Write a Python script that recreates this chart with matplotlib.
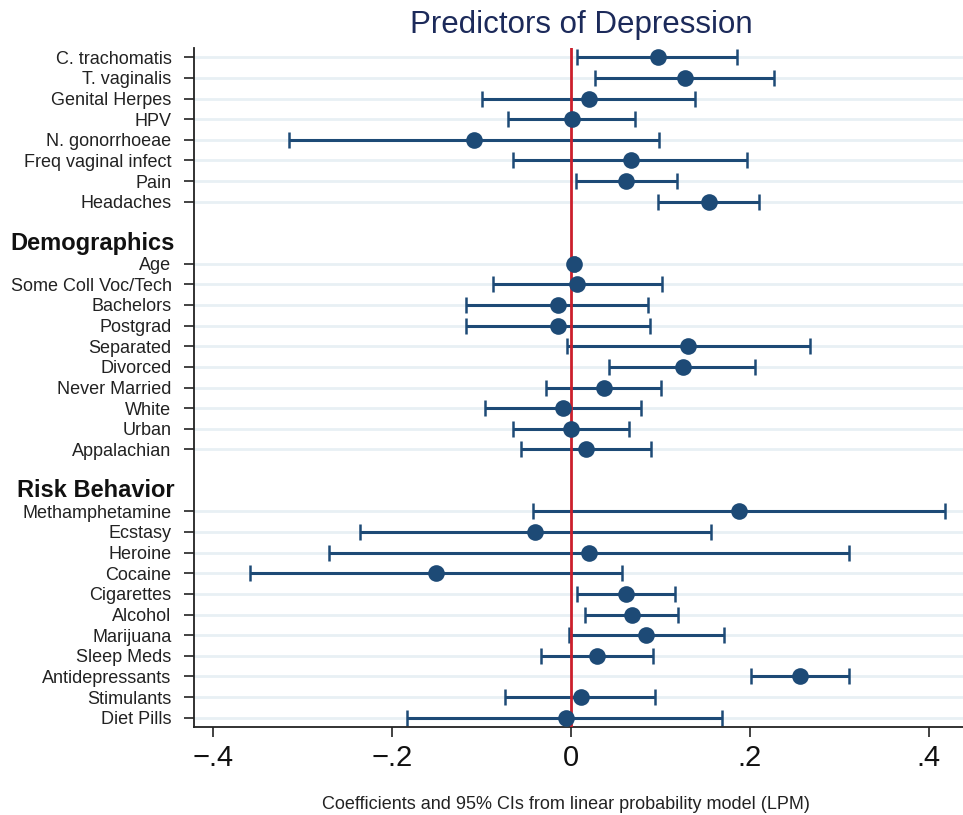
import matplotlib
matplotlib.use("Agg")
import matplotlib.pyplot as plt
from matplotlib.transforms import blended_transform_factory
import numpy as np

plt.rcParams['font.family'] = ['Liberation Sans', 'DejaVu Sans']

# ---- data ----
sti_labels = ["C. trachomatis", "T. vaginalis", "Genital Herpes", "HPV",
              "N. gonorrhoeae", "Freq vaginal infect", "Pain", "Headaches"]
sti_coef = [0.097, 0.127, 0.020, 0.001, -0.109, 0.067, 0.062, 0.154]
sti_lo   = [0.007, 0.027, -0.099, -0.071, -0.315, -0.065, 0.006, 0.097]
sti_hi   = [0.186, 0.227, 0.139, 0.072, 0.098, 0.197, 0.119, 0.210]

demo_title = "Demographics"
demo_labels = ["Age", "Some Coll Voc/Tech", "Bachelors", "Postgrad", "Separated",
               "Divorced", "Never Married", "White", "Urban", "Appalachian"]
demo_coef = [0.003, 0.007, -0.014, -0.014, 0.131, 0.125, 0.037, -0.009, 0.000, 0.017]
demo_lo   = [0.001, -0.087, -0.117, -0.117, -0.004, 0.043, -0.028, -0.096, -0.065, -0.056]
demo_hi   = [0.005, 0.102, 0.086, 0.088, 0.267, 0.206, 0.101, 0.078, 0.065, 0.090]

risk_title = "Risk Behavior"
risk_labels = ["Methamphetamine", "Ecstasy", "Heroine", "Cocaine", "Cigarettes",
               "Alcohol", "Marijuana", "Sleep Meds", "Antidepressants", "Stimulants",
               "Diet Pills"]
risk_coef = [0.188, -0.040, 0.020, -0.151, 0.061, 0.068, 0.084, 0.029, 0.256, 0.011, -0.006]
risk_lo   = [-0.042, -0.236, -0.271, -0.359, 0.007, 0.016, -0.002, -0.034, 0.201, -0.074, -0.183]
risk_hi   = [0.418, 0.157, 0.311, 0.057, 0.116, 0.120, 0.171, 0.092, 0.311, 0.094, 0.169]

x_ticks = [-0.4, -0.2, 0.0, 0.2, 0.4]
x_ticklabels = ["\u2212.4", "\u2212.2", "0", ".2", ".4"]

title = "Predictors of Depression"
xlabel = "Coefficients and 95% CIs from linear probability model (LPM)"

# ---- layout of rows ----
labels, coefs, los, his, ypos = [], [], [], [], []
headers = []
row = 0
for i, l in enumerate(sti_labels):
    labels.append(l); coefs.append(sti_coef[i]); los.append(sti_lo[i]); his.append(sti_hi[i]); ypos.append(row); row += 1
row += 1
headers.append((demo_title, row)); row += 1
for i, l in enumerate(demo_labels):
    labels.append(l); coefs.append(demo_coef[i]); los.append(demo_lo[i]); his.append(demo_hi[i]); ypos.append(row); row += 1
row += 1
headers.append((risk_title, row)); row += 1
for i, l in enumerate(risk_labels):
    labels.append(l); coefs.append(risk_coef[i]); los.append(risk_lo[i]); his.append(risk_hi[i]); ypos.append(row); row += 1

coefs = np.array(coefs); los = np.array(los); his = np.array(his); ypos = np.array(ypos)

W, H = 963, 815
fig = plt.figure(figsize=(W / 100, H / 100), dpi=100)
ax_left, ax_right, ax_top, ax_bot = 194, 963, 48, 727
ax = fig.add_axes([ax_left / W, 1 - ax_bot / H, (ax_right - ax_left) / W, (ax_bot - ax_top) / H])

blue = "#1d4a76"
red = "#cc1f2c"
grid_c = "#e8f0f4"

for y in ypos:
    ax.axhline(y, color=grid_c, lw=2.0, zorder=0)

ax.errorbar(coefs, ypos, xerr=[coefs - los, his - coefs], fmt='none',
            ecolor=blue, elinewidth=2.2, capsize=5.6, capthick=1.8, zorder=2)
ax.axvline(0, color=red, lw=2.0, zorder=3)
ax.plot(coefs, ypos, 'o', color=blue, markersize=12, markeredgewidth=0, zorder=4)

ax.set_xlim(-0.4217, 0.4385)
ax.set_ylim(row - 1 + 0.45, -0.45)

ax.set_yticks(ypos)
ax.set_yticklabels(labels, fontsize=13, color="#222222")
ax.set_xticks(x_ticks)
ax.set_xticklabels(x_ticklabels, fontsize=21, color="#111111")
ax.tick_params(axis='y', length=7.2, width=1.2, pad=9, color="#222222")
ax.tick_params(axis='x', length=7.2, width=1.2, pad=5, color="#222222")

for s in ["top", "right"]:
    ax.spines[s].set_visible(False)
for s in ["left", "bottom"]:
    ax.spines[s].set_linewidth(1.3)
    ax.spines[s].set_color("#222222")

trans = blended_transform_factory(ax.transAxes, ax.transData)
for name, y in headers:
    ax.text(-19 / (ax_right - ax_left), y, name, transform=trans, ha='right', va='center',
            fontsize=17, fontweight='bold', color="#111111")

fig.text(581.5 / W, 1 - 33 / H, title, ha='center', va='baseline', fontsize=22.5, color="#1c2a5a")
fig.text(566 / W, 1 - 809 / H, xlabel, ha='center', va='baseline', fontsize=13, color="#222222")

fig.savefig("out.png", dpi=100)
